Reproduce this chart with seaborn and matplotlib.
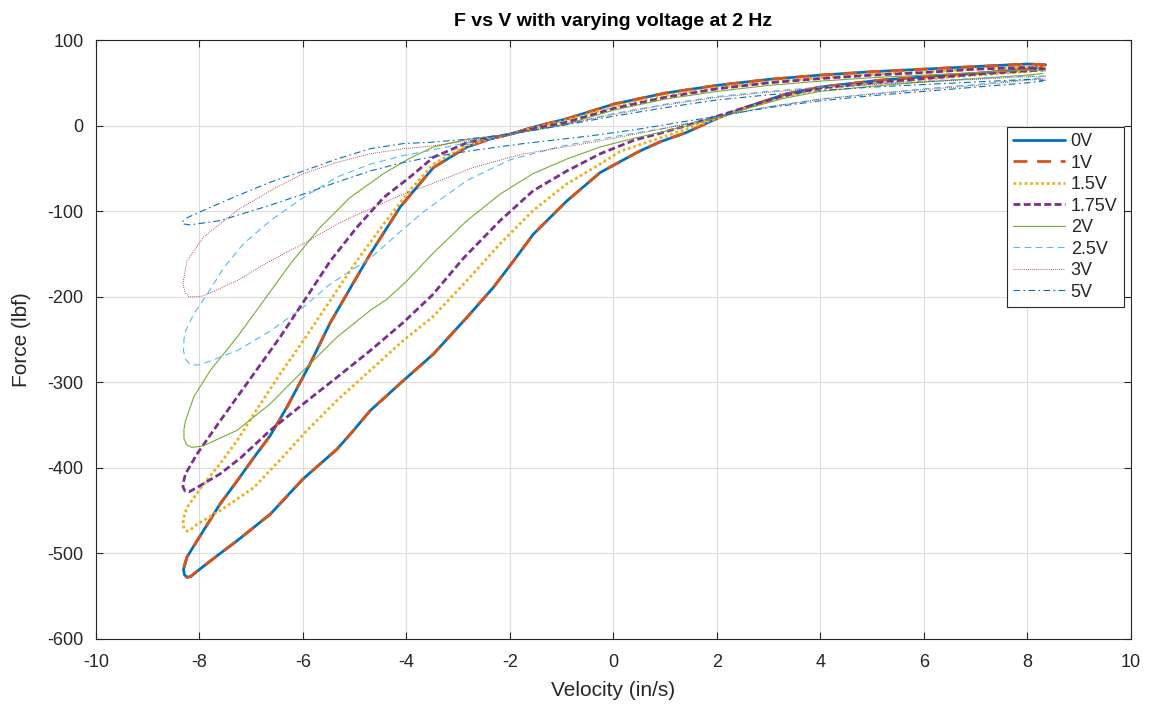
import matplotlib
matplotlib.use("Agg")
import matplotlib.pyplot as plt
import seaborn as sns

# ---------------- data ----------------
LABELS = ["0V", "1V", "1.5V", "1.75V", "2V", "2.5V", "3V", "5V"]

V0_X = [8.35, 8, 7, 6, 5, 4, 3, 2, 1, 0, -0.9, -1.5, -2.0, -2.4, -2.83, -3.48, -4.12, -4.7, -5.0, -5.22, -5.47, -5.86, -6.31, -6.63, -6.95, -7.27, -7.6, -7.92, -8.24, -8.28, -8.31, -8.29, -8.24, -8.17, -8.05, -7.6, -7.27, -6.63, -6.0, -5.34, -5.02, -4.7, -4.06, -3.48, -2.83, -2.32, -1.93, -1.55, -0.9, -0.26, 0.13, 0.5, 0.9, 1.41, 2.06, 2.64, 3.34, 3.99, 5.14, 6, 7, 8, 8.3]
V0_Y = [71, 72, 69, 66, 63, 59, 54, 47, 38, 25, 8, -1, -10, -16, -25, -49, -95, -150, -181, -204, -230, -278, -329, -362, -388, -415, -442, -473, -504, -512, -519, -525, -528, -527, -521, -500, -485, -454, -413, -378, -356, -333, -298, -267, -224, -189, -158, -127, -88, -55, -42, -30, -19, -8, 10, 23, 37, 45, 53, 57, 61, 66, 69]

V1_X = [8.35, 8, 7, 6, 5, 4, 3, 2, 1, 0, -0.9, -1.5, -2.0, -2.4, -2.83, -3.48, -4.12, -4.7, -5.0, -5.22, -5.47, -5.86, -6.31, -6.63, -6.95, -7.27, -7.6, -7.92, -8.24, -8.28, -8.31, -8.29, -8.24, -8.17, -8.05, -7.6, -7.27, -6.63, -6.0, -5.34, -5.02, -4.7, -4.06, -3.48, -2.83, -2.32, -1.93, -1.55, -0.9, -0.26, 0.13, 0.5, 0.9, 1.41, 2.06, 2.64, 3.34, 3.99, 5.14, 6, 7, 8, 8.3]
V1_Y = [71, 72, 69, 66, 63, 59, 54, 47, 38, 25, 8, -1, -10, -16, -25, -49, -95, -150, -181, -204, -230, -278, -329, -362, -388, -415, -442, -473, -504, -512, -519, -525, -528, -527, -521, -500, -485, -454, -413, -378, -356, -333, -298, -267, -224, -189, -158, -127, -88, -55, -42, -30, -19, -8, 10, 23, 37, 45, 53, 57, 61, 66, 69]

V15_X = [8.35, 8, 7, 6, 5, 4, 3, 2, 1, 0, -0.9, -1.5, -2.0, -2.4, -2.83, -3.48, -3.93, -4.44, -4.96, -5.47, -5.99, -6.44, -6.95, -7.27, -7.6, -7.92, -8.24, -8.29, -8.32, -8.30, -8.24, -8.15, -8.05, -7.6, -6.95, -6.4, -5.95, -5.34, -4.7, -4.06, -3.5, -2.83, -2.19, -1.55, -0.9, -0.26, 0.13, 0.77, 1.41, 2.06, 2.64, 3.3, 4, 5, 6, 7, 8, 8.3]
V15_Y = [68, 69, 66, 63, 60, 56, 51, 44, 35, 22, 6, -2, -10, -15, -23, -45, -75, -115, -158, -204, -251, -290, -337, -368, -395, -419, -446, -455, -465, -471, -474, -471, -466, -450, -423, -388, -358, -321, -286, -251, -224, -181, -138, -99, -68, -45, -30, -17, -4, 10, 22, 34, 43, 49, 54, 59, 63, 66]

V175_X = [8.35, 8, 7, 6, 5, 4, 3, 2, 1, 0, -0.9, -1.5, -2.0, -2.4, -2.83, -3.48, -3.93, -4.44, -4.96, -5.47, -5.99, -6.44, -6.95, -7.6, -8.05, -8.27, -8.30, -8.32, -8.28, -8.20, -8.05, -7.6, -7.2, -6.63, -5.99, -5.34, -4.7, -4.06, -3.5, -2.9, -2.19, -1.55, -0.9, -0.26, 0.4, 0.9, 1.41, 2.06, 2.64, 3.3, 4, 5, 6, 7, 8, 8.3]
V175_Y = [66, 68, 66, 62, 59, 55, 50, 43, 33, 20, 4, -3, -10, -14, -20, -37, -60, -84, -119, -158, -206, -247, -290, -345, -384, -407, -414, -422, -427, -428, -423, -407, -388, -356, -325, -294, -263, -230, -198, -155, -111, -76, -53, -33, -17, -9, 0, 12, 23, 35, 44, 50, 55, 60, 64, 65]

V2_X = [8.35, 8, 7, 6, 5, 4, 3, 2, 1, 0, -0.9, -1.5, -2.0, -2.83, -3.48, -3.93, -4.44, -5.09, -5.67, -6.25, -6.8, -7.27, -7.79, -8.11, -8.27, -8.30, -8.30, -8.25, -8.15, -8.0, -7.92, -7.27, -6.63, -5.99, -5.34, -4.7, -4.38, -4.0, -3.5, -2.83, -2.19, -1.55, -0.9, -0.26, 0.38, 0.9, 1.5, 2.1, 2.64, 3.3, 4, 5, 6, 7, 8, 8.3]
V2_Y = [64, 65, 62, 59, 56, 52, 47, 40, 31, 18, 2, -5, -10, -16, -25, -38, -56, -84, -119, -162, -208, -247, -286, -317, -345, -355, -366, -373, -376, -375, -374, -356, -325, -286, -247, -216, -203, -182, -150, -111, -80, -56, -39, -25, -15, -8, 1, 11, 21, 32, 40, 46, 51, 55, 59, 61]

V25_X = [8.35, 8, 7, 6, 5, 4, 3, 2, 1, 0, -1, -2.0, -2.83, -3.54, -4.06, -4.7, -5.34, -5.99, -6.63, -7.15, -7.53, -7.85, -8.11, -8.27, -8.30, -8.31, -8.27, -8.18, -8.05, -7.92, -7.27, -6.63, -5.99, -5.47, -4.7, -4.12, -3.7, -2.83, -2.0, -1.0, 0, 1, 2, 3, 4, 5, 6, 7, 8, 8.3]
V25_Y = [58, 58, 55, 52, 49, 45, 40, 34, 25, 14, 0, -10, -20, -29, -35, -45, -60, -84, -111, -138, -166, -197, -220, -240, -250, -263, -273, -279, -280, -278, -263, -240, -212, -185, -155, -124, -102, -64, -40, -24, -13, -3, 10, 22, 31, 37, 43, 48, 54, 56]

V3_X = [8.35, 8, 7, 6, 5, 4, 3, 2, 1, 0, -1, -2.0, -2.83, -3.54, -4.06, -4.7, -5.34, -5.99, -6.63, -7.27, -7.92, -8.24, -8.28, -8.32, -8.28, -8.20, -8.05, -7.92, -7.27, -6.63, -5.99, -5.34, -4.7, -4.06, -3.6, -2.71, -1.74, -0.45, 0.5, 1.5, 2.3, 3, 4, 5, 6, 7, 8, 8.3]
V3_Y = [57, 57, 54, 51, 48, 44, 39, 33, 24, 13, 1, -10, -18, -24, -27, -33, -43, -56, -76, -99, -130, -158, -170, -185, -195, -200, -200, -199, -181, -158, -138, -115, -97, -80, -70, -49, -33, -20, -9, 3, 14, 22, 31, 37, 42, 47, 53, 55]

V5_X = [8.35, 8, 7, 6, 5, 4, 3, 2, 1, 0, -1, -2.0, -2.83, -3.54, -4.06, -4.7, -5.34, -5.99, -6.63, -7.27, -7.92, -8.25, -8.34, -8.30, -8.18, -7.6, -6.63, -5.99, -5.34, -4.7, -4.06, -3.54, -2.71, -1.74, -0.45, 0.5, 1.5, 2.3, 3, 4, 5, 6, 7, 8, 8.3]
V5_Y = [53, 54, 51, 48, 45, 41, 36, 30, 21, 11, 0, -10, -16, -19.5, -21, -27, -39, -53, -66, -82, -99, -108, -113, -115, -116, -111, -93, -80, -66, -53, -43, -37, -29, -21, -12, -4, 6, 14, 21, 29, 35, 40, 45, 50, 52]

X_TICKS = [-10, -8, -6, -4, -2, 0, 2, 4, 6, 8, 10]
Y_TICKS = [-600, -500, -400, -300, -200, -100, 0, 100]

# ---------------- styling ----------------
sns.set_theme(style="white")
plt.rcParams["font.family"] = ["Liberation Sans", "DejaVu Sans"]

COLORS = ["#0072BD", "#D95319", "#EDB120", "#7E2F8E", "#77AC30", "#4DBEEE", "#A2142F", "#0072BD"]
WIDTHS = [2.0, 2.0, 2.0, 2.0, 0.8, 0.8, 0.6, 0.8]
DASHES = [None, (5, 3.5), (1, 1), (2.5, 1.2), None, (6, 4), (1, 1.5), (6, 3, 1.5, 3)]

series = [(V0_X, V0_Y), (V1_X, V1_Y), (V15_X, V15_Y), (V175_X, V175_Y),
          (V2_X, V2_Y), (V25_X, V25_Y), (V3_X, V3_Y), (V5_X, V5_Y)]

fig = plt.figure(figsize=(11.51, 7.15), dpi=100)
ax = fig.add_axes([0.0834, 0.1063, 0.8992, 0.8377])

for (xs, ys), lab, col, lw, ds in zip(series, LABELS, COLORS, WIDTHS, DASHES):
    sns.lineplot(x=xs, y=ys, sort=False, estimator=None, ax=ax,
                 color=col, linewidth=lw, label=lab)
    line = ax.lines[-1]
    line.set_solid_joinstyle("round")
    if ds is not None:
        line.set_dashes(ds)

ax.set_xlim(-10, 10)
ax.set_ylim(-600, 100)
ax.set_xticks(X_TICKS)
ax.set_yticks(Y_TICKS)
ax.set_xticklabels([str(t) for t in X_TICKS])
ax.set_yticklabels([str(t) for t in Y_TICKS])

ax.grid(True, color="#dcdcdc", linewidth=0.8)
ax.set_axisbelow(True)
for sp in ax.spines.values():
    sp.set_color("#262626")
    sp.set_linewidth(0.8)
    sp.set_visible(True)
ax.tick_params(axis="both", direction="in", length=5, width=0.8, color="#262626",
               labelsize=13, labelcolor="#262626", top=True, right=True,
               bottom=True, left=True)
ax.tick_params(axis="x", pad=11)
ax.tick_params(axis="y", pad=9)

ax.set_xlabel("Velocity (in/s)", fontsize=15, color="#262626", labelpad=7)
ax.set_ylabel("Force (lbf)", fontsize=15, color="#262626", labelpad=12)
ax.set_title("F vs V with varying voltage at 2 Hz", fontsize=14, fontweight="bold",
             color="black", pad=10)

leg = ax.legend(loc="upper right", bbox_to_anchor=(0.993, 0.855), fontsize=13,
                frameon=True, fancybox=False, edgecolor="#262626", framealpha=1,
                handlelength=2.9, handletextpad=0.3, labelspacing=0.25,
                borderpad=0.35, borderaxespad=0)
leg.get_frame().set_linewidth(0.8)

fig.savefig("out.png", dpi=100)
